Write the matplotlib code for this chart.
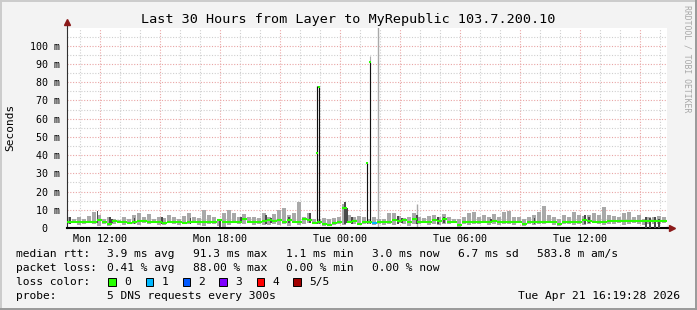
import numpy as np
import matplotlib
matplotlib.use("Agg")
import matplotlib.pyplot as plt
from matplotlib.patches import Rectangle
from matplotlib.lines import Line2D

# --- time base: hours since graph start (Mon 10:20), 15 minute bins ---
start_hour = 10 + 20 / 60.0
step = 0.25

# median rtt per bin (ms)
median_ms = [
    3.1, 3.1, 3.1, 3.2, 3.1, 3.1, 4.5, 3.1, 2.2, 3.8,
    3.1, 3.1, 3.0, 3.1, 3.9, 3.9, 3.5, 3.1, 3.1, 2.8,
    3.1, 3.1, 3.1, 3.0, 3.1, 3.1, 3.1, 3.1, 3.1, 3.1,
    4.2, 3.4, 3.1, 3.1, 3.1, 4.8, 3.1, 3.1, 3.1, 4.0,
    4.6, 3.6, 4.2, 3.1, 4.4, 3.1, 3.1, 5.2, 4.5, 3.0,
    3.1, 2.3, 1.8, 2.8, 3.3, 10.8, 3.1, 3.8, 2.4, 3.1,
    3.1, 3.0, 3.1, 3.1, 3.1, 4.6, 4.0, 4.6, 3.1, 4.8,
    3.1, 3.1, 3.1, 4.5, 3.6, 4.7, 3.1, 3.1, 1.8, 3.1,
    3.1, 3.1, 3.1, 3.1, 3.1, 4.0, 3.1, 3.1, 3.1, 3.1,
    3.1, 2.0, 3.1, 3.1, 3.1, 3.1, 3.1, 3.1, 2.0, 3.1,
    3.1, 3.1, 3.1, 4.6, 3.7, 3.1, 3.1, 3.1, 3.7, 3.7,
    3.7, 3.7, 3.7, 3.7, 3.7, 3.7, 3.7, 3.7, 3.7, 3.7,
]

# lost pings per bin (out of 5)
loss = [
    0, 0, 0, 0, 0, 0, 0, 0, 0, 0,
    0, 0, 0, 0, 0, 0, 0, 0, 0, 0,
    0, 0, 0, 0, 0, 0, 0, 0, 0, 0,
    0, 0, 0, 0, 0, 0, 0, 0, 0, 0,
    0, 0, 0, 0, 0, 0, 0, 0, 0, 0,
    0, 0, 0, 0, 0, 0, 0, 0, 0, 0,
    0, 1, 0, 0, 0, 0, 0, 0, 0, 0,
    0, 0, 0, 0, 0, 0, 0, 0, 0, 0,
    0, 0, 0, 0, 0, 0, 0, 0, 0, 0,
    0, 0, 0, 0, 0, 0, 0, 0, 0, 0,
    0, 0, 0, 0, 0, 0, 0, 0, 0, 0,
    0, 0, 0, 0, 0, 0, 0, 0, 0, 0,
]

# smoke (spread of the 5 pings) per bin, ms
smoke_hi_ms = [
    6.0, 5.0, 6.0, 5.0, 6.5, 9.0, 7.0, 5.0, 6.0, 5.0,
    4.5, 6.0, 5.0, 7.0, 8.0, 6.0, 7.5, 5.0, 6.0, 5.5,
    7.0, 6.0, 5.0, 6.5, 8.0, 6.0, 5.5, 10.0, 7.0, 6.0,
    5.0, 8.0, 10.0, 8.0, 6.0, 7.5, 6.0, 6.0, 5.5, 8.0,
    6.0, 7.5, 10.0, 11.0, 7.0, 8.0, 14.5, 6.0, 8.0, 5.0,
    5.0, 5.5, 5.0, 5.5, 6.0, 13.0, 7.0, 6.0, 6.5, 6.0,
    5.0, 6.0, 5.0, 5.0, 8.0, 8.0, 6.5, 5.5, 6.0, 8.0,
    6.0, 5.5, 6.5, 7.0, 6.0, 7.5, 6.0, 5.0, 5.0, 6.0,
    8.0, 9.0, 6.0, 7.0, 6.0, 7.5, 6.0, 9.0, 9.5, 6.0,
    6.0, 5.0, 6.0, 7.0, 9.0, 12.0, 7.0, 6.0, 5.0, 7.0,
    6.0, 9.0, 7.0, 6.5, 7.0, 8.0, 7.0, 11.5, 7.0, 6.5,
    6.0, 8.0, 9.0, 6.0, 7.0, 5.0, 6.0, 6.0, 6.5, 6.0,
]
smoke_lo_ms = [
    2.0, 2.5, 1.5, 2.2, 2.6, 2.0, 1.0, 2.4, 1.2, 2.0,
    2.5, 1.8, 2.6, 2.2, 1.5, 2.8, 2.0, 2.5, 1.6, 1.8,
    2.6, 2.2, 1.5, 2.4, 2.0, 2.6, 1.8, 1.2, 2.4, 2.0,
    1.0, 0.8, 1.5, 2.5, 2.2, 2.0, 2.6, 1.4, 2.2, 1.8,
    1.5, 2.4, 1.6, 2.0, 1.2, 2.5, 1.8, 2.2, 2.6, 2.0,
    2.4, 1.2, 1.0, 1.8, 2.2, 1.5, 2.5, 2.0, 1.4, 2.2,
    2.0, 1.6, 2.4, 1.5, 2.2, 1.8, 2.6, 2.0, 1.2, 2.4,
    2.0, 2.6, 1.5, 2.2, 1.8, 2.4, 2.0, 2.5, 0.8, 2.2,
    1.5, 2.4, 2.0, 2.6, 1.8, 2.2, 1.5, 2.4, 2.0, 1.8,
    2.5, 1.0, 2.2, 1.6, 2.4, 2.0, 2.6, 1.8, 1.0, 2.2,
    2.0, 1.5, 2.4, 1.8, 2.2, 2.6, 2.0, 1.6, 2.4, 2.0,
    2.5, 1.8, 2.2, 2.6, 2.0, 1.5, 2.4, 2.2, 2.0, 2.6,
]

# darker inner smoke, (hour, low ms, high ms)
dark_hours = [0.175, 1.55, 2.175, 2.275, 3.4, 4.775, 6.2, 7.675, 8.725, 9.975,
              10.225, 11.125, 12.175, 13.925, 14.025, 14.275, 16.575, 16.775,
              17.525, 18.575, 18.875, 21.225, 23.4, 25.925, 26.125,
              28.975, 29.175, 29.425, 29.625]
dark_lo = [2.0, 3.0, 2.0, 2.5, 2.2, 2.0, 2.4, 0.5, 3.0, 2.0,
           2.5, 3.0, 3.0, 2.0, 3.0, 2.0, 2.0, 2.5,
           2.0, 2.0, 2.5, 3.0, 2.4, 2.0, 2.5,
           0.0, 0.0, 0.0, 0.0]
dark_hi = [6.0, 9.4, 6.0, 5.0, 5.5, 6.0, 5.5, 4.5, 5.8, 7.0,
           5.5, 6.0, 8.0, 14.5, 11.0, 6.0, 6.5, 5.5,
           7.0, 6.0, 6.0, 5.0, 5.5, 7.0, 6.0,
           6.0, 5.5, 6.0, 5.0]

# big latency spikes: (hour, median ms, top ms)
spike_hours = [12.51, 12.635, 15.02, 15.15]
spike_med = [41.0, 77.6, 35.4, 91.0]
spike_top = [78.0, 78.0, 35.4, 91.0]
spike_max = [78.0, 78.0, 35.4, 94.5]

# single pings far above the rest: (hour, ms)
outlier_hours = [15.56, 17.5]
outlier_ms = [130.0, 13.0]

loss_colors = ["#26ff00", "#00b8ff", "#0059ff", "#7e00ff", "#ff0000", "#a10000"]
loss_labels = ["0", "1", "2", "3", "4", "5/5"]

tick_clock = [12, 18, 24, 30, 36]
tick_names = ["Mon 12:00", "Mon 18:00", "Tue 00:00", "Tue 06:00", "Tue 12:00"]

stats_rtt = ["3.9 ms avg", "91.3 ms max", "1.1 ms min", "3.0 ms now", "6.7 ms sd", "583.8 m am/s"]
stats_loss = ["0.41 % avg", "88.00 % max", "0.00 % min", "0.00 % now"]

W, H = 697, 310
mono = "DejaVu Sans Mono"
plt.rcParams["font.family"] = mono

fig = plt.figure(figsize=(W / 100, H / 100), dpi=100, facecolor="#f3f3f3")
ax = fig.add_axes([66.5 / W, 1 - 228 / H, 600 / W, 200.5 / H])
ax.set_facecolor("white")


def fx(x):
    return x / W


def fy(y):
    return 1 - y / H


n = len(median_ms)
x0 = np.arange(n) * step
med = np.array(median_ms)
lo = np.array(smoke_lo_ms)
hi = np.array(smoke_hi_ms)

# light smoke
ax.bar(x0 + 0.03, hi - lo, bottom=lo, width=step * 0.72, align="edge", color="#a9a9a9", lw=0, zorder=2)
# dark smoke
ax.bar(dark_hours, np.array(dark_hi) - np.array(dark_lo), bottom=dark_lo, width=0.09,
       color="#4a4a4a", lw=0, zorder=3)
# outliers
ax.vlines(outlier_hours, 0, outlier_ms, colors="#a9a9a9", lw=1.0, zorder=2)
# spikes
ax.vlines(spike_hours, 3, spike_max, colors="#a9a9a9", lw=0.8, zorder=3)
ax.vlines(spike_hours, 3, spike_top, colors="#111111", lw=0.8, zorder=4)
ax.scatter(spike_hours, spike_med, marker="s", s=3, color=loss_colors[0], lw=0, zorder=5)

# median, colored by loss
ax.hlines(med, x0, x0 + step, colors=[loss_colors[k] for k in loss], lw=1.5, zorder=4)

ax.set_xlim(0, 30)
ax.set_ylim(0, 110)

# grid
ax.set_xticks([h - start_hour for h in range(12, 40, 3)])
ax.set_xticks([h - start_hour for h in range(11, 41)], minor=True)
ax.set_yticks(range(0, 101, 10))
ax.set_yticks(range(5, 110, 10), minor=True)
ax.grid(which="minor", color="#cfcfcf", lw=0.8, linestyle=(0, (1, 1.5)), zorder=0)
ax.grid(which="major", color="#e9a5a5", lw=0.8, linestyle=(0, (1, 1.5)), zorder=1)
ax.set_axisbelow(True)

labels = {h - start_hour: name for h, name in zip(tick_clock, tick_names)}
ax.set_xticklabels([labels.get(h - start_hour, "") for h in range(12, 40, 3)])
ax.set_yticklabels(["0  "] + ["%d m" % v for v in range(10, 101, 10)])
ax.tick_params(axis="both", which="both", length=0, labelsize=7.2, colors="black")
ax.tick_params(axis="y", pad=5)
ax.tick_params(axis="x", pad=4)

for s in ["top", "right"]:
    ax.spines[s].set_visible(False)
ax.spines["left"].set_color("#303030")
ax.spines["left"].set_linewidth(0.8)
ax.spines["bottom"].set_color("black")
ax.spines["bottom"].set_linewidth(1.5)

# axis arrows
ax.plot([0, 0], [1, 1.02], transform=ax.transAxes, color="#303030", lw=0.8, clip_on=False)
ax.plot([0], [1.025], marker="^", ms=4.5, color="#8b1a1a", transform=ax.transAxes, clip_on=False)
ax.plot([1, 1.005], [0, 0], transform=ax.transAxes, color="black", lw=1.5, clip_on=False)
ax.plot([1.009], [0], marker=">", ms=4.5, color="#8b1a1a", transform=ax.transAxes, clip_on=False)

# texts
fig.text(fx(348.5), fy(19), "Last 30 Hours from Layer to MyRepublic 103.7.200.10",
         ha="center", va="center", fontsize=9.7)
fig.text(fx(10.5), fy(127), "Seconds", rotation=90, ha="center", va="center", fontsize=8)
fig.text(fx(687), fy(59), "RRDTOOL / TOBI OETIKER", rotation=270, ha="center", va="center",
         fontsize=5.9, color="#a8a8a8")

lx = [107.3, 193.3, 286, 371.7, 458.3, 537.3]
fs = 8.1
fig.text(fx(16), fy(254), "median rtt:", va="center", fontsize=fs)
for s, x in zip(stats_rtt, lx):
    fig.text(fx(x), fy(254), s, va="center", fontsize=fs)
fig.text(fx(16), fy(268), "packet loss:", va="center", fontsize=fs)
for s, x in zip(stats_loss, lx):
    fig.text(fx(x), fy(268), s, va="center", fontsize=fs)
fig.text(fx(16), fy(281.7), "loss color:", va="center", fontsize=fs)
box_x = [108.3, 145.7, 182.7, 219.3, 256.7, 293.3]
for c, lab, bx in zip(loss_colors, loss_labels, box_x):
    fig.patches.append(Rectangle((fx(bx), fy(285.5)), 7.5 / W, 7.5 / H, transform=fig.transFigure,
                                 facecolor=c, edgecolor="black", lw=0.7))
    fig.text(fx(bx + 15.5), fy(281.7), lab, va="center", fontsize=fs)
fig.text(fx(16), fy(296), "probe:", va="center", fontsize=fs)
fig.text(fx(107.3), fy(296), "5 DNS requests every 300s", va="center", fontsize=fs)
fig.text(fx(680), fy(296), "Tue Apr 21 16:19:28 2026", ha="right", va="center", fontsize=fs)

# frame shading
fig.add_artist(Line2D([0, 1], [fy(0.5), fy(0.5)], color="#cbcbcb", lw=1.4))
fig.add_artist(Line2D([fx(0.5), fx(0.5)], [0, 1], color="#cbcbcb", lw=1.4))
fig.add_artist(Line2D([0, 1], [fy(308.5), fy(308.5)], color="#999999", lw=1.4))
fig.add_artist(Line2D([fx(695.5), fx(695.5)], [0, 1], color="#999999", lw=1.4))

fig.savefig("out.png", dpi=100, facecolor=fig.get_facecolor())
